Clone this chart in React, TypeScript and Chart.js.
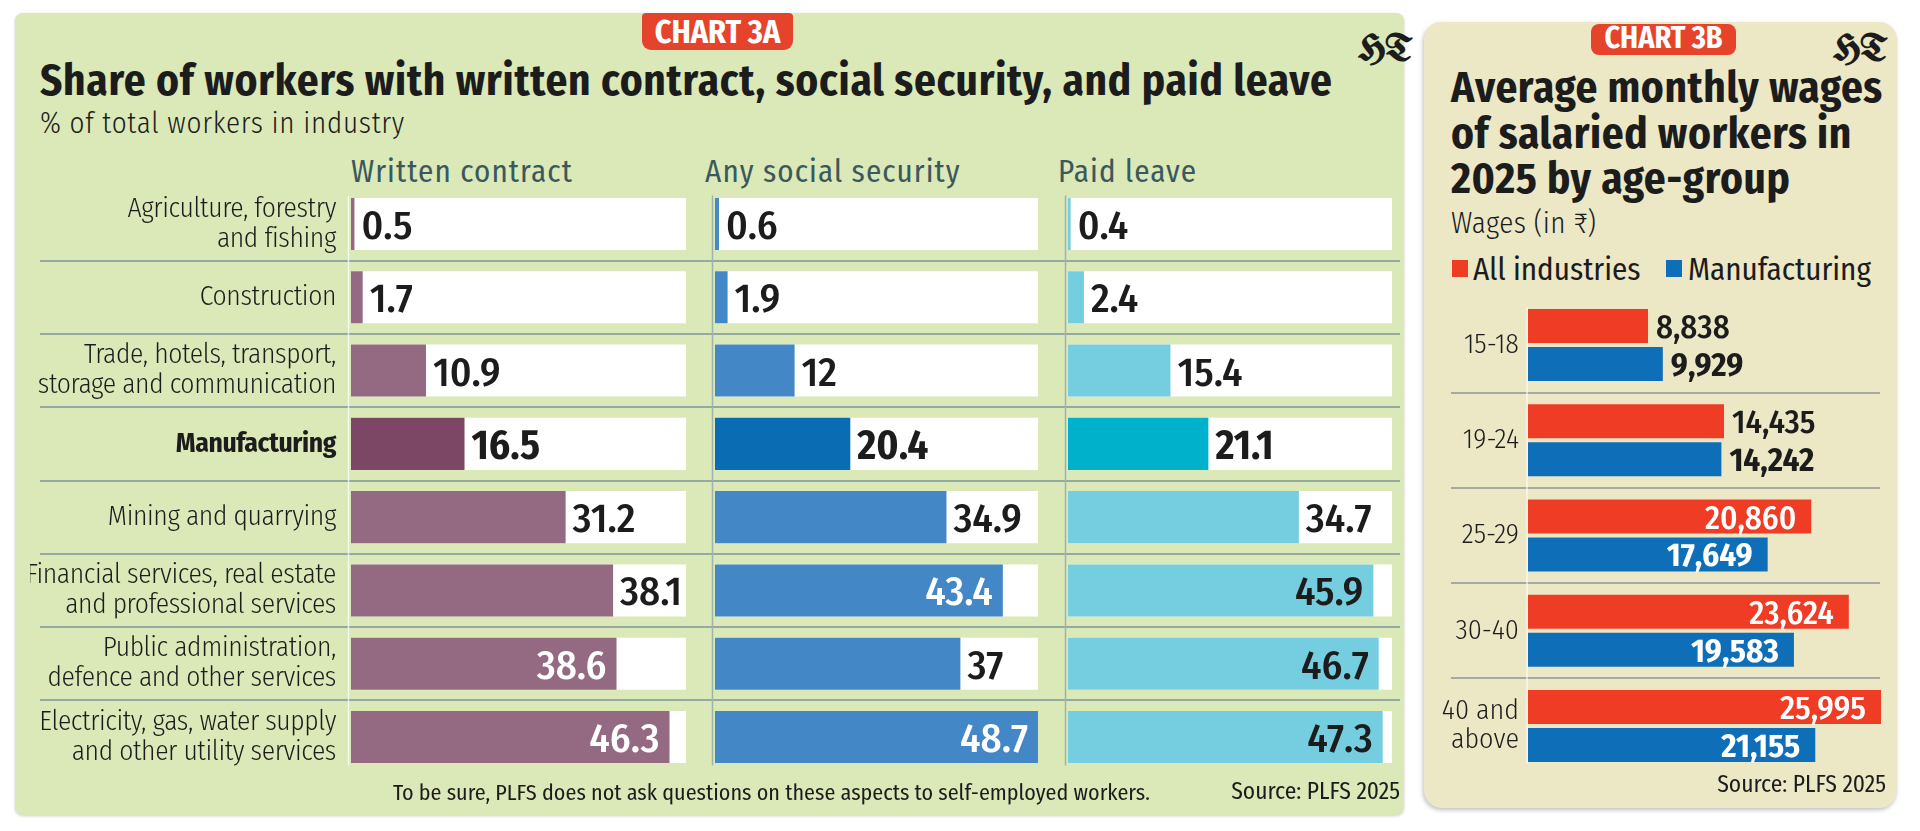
import React, { useEffect, useRef } from "react";
import { Chart, registerables } from "chart.js";

Chart.register(...registerables);

// ---------------- DATA ----------------
const INDUSTRIES: string[][] = [
  ["Agriculture, forestry", "and fishing"],
  ["Construction"],
  ["Trade, hotels, transport,", "storage and communication"],
  ["Manufacturing"],
  ["Mining and quarrying"],
  ["Financial services, real estate", "and professional services"],
  ["Public administration,", "defence and other services"],
  ["Electricity, gas, water supply", "and other utility services"],
];
const HIGHLIGHT_INDUSTRY = "Manufacturing";
const COLUMN_TITLES = ["Written contract", "Any social security", "Paid leave"];
const WRITTEN_CONTRACT = [0.5, 1.7, 10.9, 16.5, 31.2, 38.1, 38.6, 46.3];
const SOCIAL_SECURITY = [0.6, 1.9, 12, 20.4, 34.9, 43.4, 37, 48.7];
const PAID_LEAVE = [0.4, 2.4, 15.4, 21.1, 34.7, 45.9, 46.7, 47.3];

const AGE_GROUPS: string[][] = [["15-18"], ["19-24"], ["25-29"], ["30-40"], ["40 and", "above"]];
const ALL_INDUSTRIES_WAGES = [8838, 14435, 20860, 23624, 25995];
const MANUFACTURING_WAGES = [9929, 14242, 17649, 19583, 21155];
const WAGE_SERIES = ["All industries", "Manufacturing"];

const TITLE_A = "Share of workers with written contract, social security, and paid leave";
const SUBTITLE_A = "% of total workers in industry";
const NOTE_A = "To be sure, PLFS does not ask questions on these aspects to self-employed workers.";
const SOURCE = "Source: PLFS 2025";
const TITLE_B = ["Average monthly wages", "of salaried workers in", "2025 by age-group"];
const SUBTITLE_B = "Wages (in ₹)";

// label placement rules (as in the original)
const INSIDE_FROM_A = 38.5;
const INSIDE_FROM_B = 15000;

// ---------------- STYLE ----------------
const FONT = '"Fira Sans Condensed", "Open Sans", sans-serif';
const INK = "#1c1c1c";
const GREEN_BG = "#dbe8b8";
const BEIGE_BG = "#ece8c6";
const BADGE_RED = "#e5432b";
const SEP_A = "#93a9a2";
const SEP_B = "#a3aaa2";
const RED = "#ee3c25";
const BLUE = "#0f6eb8";

const COLUMN_STYLE = [
  { base: "#946a82", hl: "#7b4764", insideText: "#ffffff", edge: "rgba(255,255,255,0.75)" },
  { base: "#4487c7", hl: "#0a6db4", insideText: "#ffffff", edge: "#9db3ad" },
  { base: "#74cee0", hl: "#00b1cb", insideText: INK, edge: "#9db3ad" },
];
const COL_GEOM = [
  { canvasLeft: 30, canvasWidth: 665, areaLeft: 351, areaRight: 686 },
  { canvasLeft: 695, canvasWidth: 353, areaLeft: 705, areaRight: 1038 },
  { canvasLeft: 1048, canvasWidth: 354, areaLeft: 1058, areaRight: 1392 },
];
const A_TOP = 180;
const A_HEIGHT = 600;
const B_LEFT = 1440;
const B_TOP = 290;
const B_WIDTH = 457;
const B_HEIGHT = 490;

type TxtProps = {
  x: number; y: number; size: number; weight?: number | string; color?: string; ls?: number;
  align?: "left" | "right" | "center"; family?: string; children: React.ReactNode;
};
const Txt = ({ x, y, size, weight = 400, color = INK, ls = 0, align = "left", family = FONT, children }: TxtProps) => {
  const tx = align === "left" ? "0" : align === "right" ? "-100%" : "-50%";
  return (
    <div
      style={{
        position: "absolute", left: x, top: y - 0.835 * size, fontFamily: family, fontSize: size,
        fontWeight: weight as any, lineHeight: `${size}px`, color, whiteSpace: "pre", letterSpacing: ls,
        transform: `translateX(${tx})`,
      }}
    >
      {children}
    </div>
  );
};

const fmtWage = (v: number) => v.toLocaleString("en-US");

const noLabelPadding = (width: number) => (s: any) => {
  s.width = width;
  s.paddingTop = 0;
  s.paddingBottom = 0;
};

export default function App() {
  const refsA = [useRef<HTMLCanvasElement>(null), useRef<HTMLCanvasElement>(null), useRef<HTMLCanvasElement>(null)];
  const refB = useRef<HTMLCanvasElement>(null);

  useEffect(() => {
    const charts: Chart[] = [];
    const columns = [WRITTEN_CONTRACT, SOCIAL_SECURITY, PAID_LEAVE];
    const xMaxA = Math.max(...WRITTEN_CONTRACT, ...SOCIAL_SECURITY, ...PAID_LEAVE);
    const labels = INDUSTRIES;
    const hlIndex = INDUSTRIES.findIndex((l) => l.join(" ") === HIGHLIGHT_INDUSTRY);

    columns.forEach((values, k) => {
      const g = COL_GEOM[k];
      const st = COLUMN_STYLE[k];
      const canvas = refsA[k].current!;
      const sepPlugin = {
        id: "sepA" + k,
        beforeDraw(chart: any) {
          (chart.ctx as any).letterSpacing = "-0.4px";
        },
        beforeDatasetsDraw(chart: any) {
          const ctx = chart.ctx;
          const ys = chart.scales.y;
          const area = chart.chartArea;
          const x0 = Math.max(0, 40 - g.canvasLeft);
          const x1 = Math.min(g.canvasWidth, 1400 - g.canvasLeft);
          ctx.save();
          ctx.strokeStyle = SEP_A;
          ctx.lineWidth = 2;
          for (let i = 0; i < values.length - 1; i++) {
            const y = Math.round((ys.getPixelForValue(i) + ys.getPixelForValue(i + 1)) / 2);
            ctx.beginPath();
            ctx.moveTo(x0, y);
            ctx.lineTo(x1, y);
            ctx.stroke();
          }
          // thin column edge
          ctx.strokeStyle = st.edge;
          ctx.lineWidth = 1.5;
          ctx.beginPath();
          ctx.moveTo(area.left - 2.5, area.top + 8);
          ctx.lineTo(area.left - 2.5, area.bottom - 8);
          ctx.stroke();
          ctx.restore();
        },
      };
      const labelPlugin = {
        id: "valA" + k,
        afterDatasetsDraw(chart: any) {
          const ctx = chart.ctx;
          const meta = chart.getDatasetMeta(0);
          ctx.save();
          (ctx as any).letterSpacing = "0px";
          meta.data.forEach((bar: any, i: number) => {
            const v = values[i];
            const inside = v >= INSIDE_FROM_A;
            ctx.font = `${i === hlIndex ? 700 : 500} 41px ${FONT}`;
            ctx.textBaseline = "alphabetic";
            if (inside) {
              ctx.textAlign = "right";
              ctx.fillStyle = st.insideText;
              ctx.fillText(String(v), bar.x - 10, bar.y + 15);
            } else {
              ctx.textAlign = "left";
              ctx.fillStyle = INK;
              ctx.fillText(String(v), bar.x + 7, bar.y + 15);
            }
          });
          ctx.restore();
        },
      };
      const chart = new Chart(canvas, {
        type: "bar",
        data: {
          labels,
          datasets: [
            {
              label: COLUMN_TITLES[k],
              data: values,
              backgroundColor: values.map((_, i) => (i === hlIndex ? st.hl : st.base)),
              grouped: false,
              order: 1,
              barPercentage: 0.71,
              categoryPercentage: 1,
            } as any,
            {
              label: "track",
              data: values.map(() => xMaxA),
              backgroundColor: "#ffffff",
              grouped: false,
              order: 2,
              barPercentage: 0.71,
              categoryPercentage: 1,
            } as any,
          ],
        },
        options: {
          indexAxis: "y",
          animation: false,
          responsive: false,
          maintainAspectRatio: false,
          layout: {
            padding: {
              left: k === 0 ? 0 : g.areaLeft - g.canvasLeft,
              right: g.canvasLeft + g.canvasWidth - g.areaRight,
              top: 7.4,
              bottom: 6.4,
            },
          },
          scales: {
            x: { display: false, min: 0, max: xMaxA },
            y: {
              display: k === 0,
              grid: { display: false, drawTicks: false, tickLength: 0 },
              border: { display: false },
              ticks: {
                padding: 15,
                color: INK,
                font: (c: any) => ({ family: FONT, size: 27.5, weight: c.index === hlIndex ? 700 : 300, lineHeight: 1.1 }),
              },
              afterFit: noLabelPadding(g.areaLeft - g.canvasLeft),
            } as any,
          },
          plugins: { legend: { display: false }, tooltip: { enabled: false }, title: { display: false } },
        },
        plugins: [sepPlugin, labelPlugin],
      });
      charts.push(chart);
    });

    // Panel B
    const xMaxB = Math.max(...ALL_INDUSTRIES_WAGES, ...MANUFACTURING_WAGES);
    const sepB = {
      id: "sepB",
      beforeDatasetsDraw(chart: any) {
        const ctx = chart.ctx;
        const ys = chart.scales.y;
        const area = chart.chartArea;
        ctx.save();
        ctx.strokeStyle = SEP_B;
        ctx.lineWidth = 2;
        for (let i = 0; i < AGE_GROUPS.length - 1; i++) {
          const y = Math.round((ys.getPixelForValue(i) + ys.getPixelForValue(i + 1)) / 2);
          ctx.beginPath();
          ctx.moveTo(1451 - B_LEFT, y);
          ctx.lineTo(1880 - B_LEFT, y);
          ctx.stroke();
        }
        ctx.strokeStyle = "rgba(255,255,255,0.55)";
        ctx.lineWidth = 2;
        ctx.beginPath();
        ctx.moveTo(area.left - 1, area.top + 10);
        ctx.lineTo(area.left - 1, area.bottom - 10);
        ctx.stroke();
        ctx.restore();
      },
    };
    const valB = {
      id: "valB",
      afterDatasetsDraw(chart: any) {
        const ctx = chart.ctx;
        ctx.save();
        [ALL_INDUSTRIES_WAGES, MANUFACTURING_WAGES].forEach((vals, d) => {
          const meta = chart.getDatasetMeta(d);
          meta.data.forEach((bar: any, i: number) => {
            const v = vals[i];
            ctx.font = `${d === 1 ? 700 : 500} 33px ${FONT}`;
            ctx.textBaseline = "alphabetic";
            if (v >= INSIDE_FROM_B) {
              ctx.textAlign = "right";
              ctx.fillStyle = "#ffffff";
              ctx.fillText(fmtWage(v), bar.x - 15, bar.y + 12);
            } else {
              ctx.textAlign = "left";
              ctx.fillStyle = INK;
              ctx.fillText(fmtWage(v), bar.x + 8, bar.y + 12);
            }
          });
        });
        ctx.restore();
      },
    };
    charts.push(
      new Chart(refB.current!, {
        type: "bar",
        data: {
          labels: AGE_GROUPS,
          datasets: [
            { label: WAGE_SERIES[0], data: ALL_INDUSTRIES_WAGES, backgroundColor: RED, categoryPercentage: 0.797, barPercentage: 0.895 },
            { label: WAGE_SERIES[1], data: MANUFACTURING_WAGES, backgroundColor: BLUE, categoryPercentage: 0.797, barPercentage: 0.895 },
          ],
        },
        options: {
          indexAxis: "y",
          animation: false,
          responsive: false,
          maintainAspectRatio: false,
          layout: { padding: { left: 0, right: B_LEFT + B_WIDTH - 1881, top: 297.4 - B_TOP, bottom: B_TOP + B_HEIGHT - 773.6 } },
          scales: {
            x: { display: false, min: 0, max: xMaxB },
            y: {
              grid: { display: false, drawTicks: false, tickLength: 0 },
              border: { display: false },
              ticks: { padding: 9, color: INK, font: { family: FONT, size: 28, weight: 300, lineHeight: 1.03 } as any },
              afterFit: noLabelPadding(1528 - B_LEFT),
            } as any,
          },
          plugins: { legend: { display: false }, tooltip: { enabled: false } },
        },
        plugins: [sepB, valB],
      })
    );

    return () => charts.forEach((c) => c.destroy());
  }, []);

  return (
    <div style={{ position: "absolute", left: 0, top: 0, width: 1920, height: 831, background: "#ffffff", overflow: "hidden" }}>
      {/* Panel A */}
      <div style={{ position: "absolute", left: 15, top: 13, width: 1389, height: 802, background: GREEN_BG, borderRadius: 8, boxShadow: "0 1px 3px rgba(0,0,0,0.2)" }} />
      <div style={{ position: "absolute", left: 642, top: 13, width: 151, height: 37, background: BADGE_RED, borderRadius: "4px 4px 9px 9px" }} />
      <Txt x={717.5} y={43} size={32} weight={700} color="#ffffff" align="center">CHART 3A</Txt>
      <Txt x={1358} y={63} size={37} family='"UnifrakturMaguntia", serif' weight={700}>HT</Txt>
      <Txt x={40} y={95} size={43} weight={700} ls={0.75}>{TITLE_A}</Txt>
      <Txt x={40} y={133} size={29} weight={300} ls={0.7}>{SUBTITLE_A}</Txt>
      {COLUMN_TITLES.map((t, k) => (
        <Txt key={t} x={COL_GEOM[k].areaLeft} y={182} size={31} weight={400} ls={1.1} color="#3b585d">{t}</Txt>
      ))}
      {COL_GEOM.map((g, k) => (
        <canvas key={k} ref={refsA[k]} width={g.canvasWidth} height={A_HEIGHT}
          style={{ position: "absolute", left: g.canvasLeft, top: A_TOP, width: g.canvasWidth, height: A_HEIGHT }} />
      ))}
      <Txt x={393} y={800} size={22.1} weight={400}>{NOTE_A}</Txt>
      <Txt x={1400} y={800} size={23.5} weight={400} align="right">{SOURCE}</Txt>

      {/* Panel B */}
      <div style={{ position: "absolute", left: 1424, top: 22, width: 473, height: 786, background: BEIGE_BG, borderRadius: 18, boxShadow: "-1px 2px 4px rgba(0,0,0,0.25)" }} />
      <div style={{ position: "absolute", left: 1591, top: 24, width: 145, height: 31, background: BADGE_RED, borderRadius: 8 }} />
      <Txt x={1663.5} y={48} size={30} weight={700} color="#ffffff" align="center">CHART 3B</Txt>
      <Txt x={1833} y={63} size={37} family='"UnifrakturMaguntia", serif' weight={700}>HT</Txt>
      {TITLE_B.map((t, i) => (
        <Txt key={t} x={1451} y={102 + i * 45.5} size={43} weight={700} ls={0.6}>{t}</Txt>
      ))}
      <Txt x={1451} y={233} size={29} weight={300} ls={0.4}>{SUBTITLE_B}</Txt>
      <div style={{ position: "absolute", left: 1452, top: 260, width: 16, height: 17, background: RED }} />
      <Txt x={1473} y={280} size={31} weight={400}>{WAGE_SERIES[0]}</Txt>
      <div style={{ position: "absolute", left: 1666, top: 260, width: 16, height: 17, background: BLUE }} />
      <Txt x={1688} y={280} size={31} weight={400}>{WAGE_SERIES[1]}</Txt>
      <canvas ref={refB} width={B_WIDTH} height={B_HEIGHT}
        style={{ position: "absolute", left: B_LEFT, top: B_TOP, width: B_WIDTH, height: B_HEIGHT }} />
      <Txt x={1886} y={793} size={23.5} weight={400} align="right">{SOURCE}</Txt>
    </div>
  );
}
